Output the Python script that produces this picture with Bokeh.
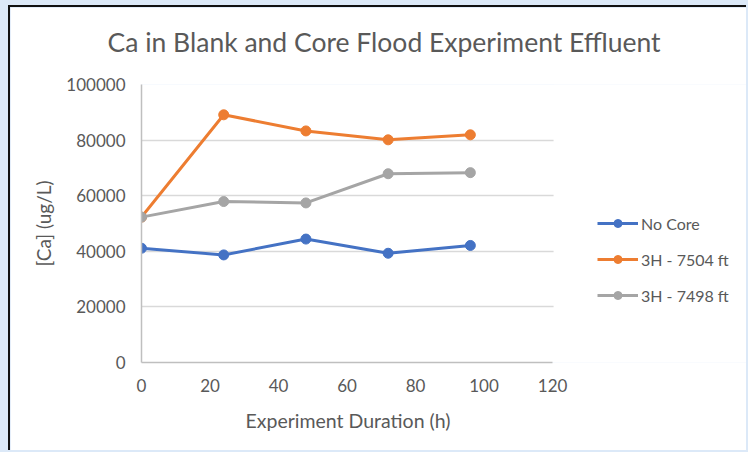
import re
from bokeh.plotting import figure
from bokeh.models import FixedTicker, Legend, LegendItem, BasicTickFormatter, Title, BoxAnnotation
from bokeh.embed import file_html
from bokeh.resources import INLINE

hours = [0, 24, 48, 72, 96]
no_core = [41100, 38700, 44400, 39300, 42100]
h3_7504 = [52300, 89100, 83300, 80100, 81900]
h3_7498 = [52300, 57900, 57400, 67900, 68300]
series_names = ["No Core", "3H - 7504 ft", "3H - 7498 ft"]
colors = ["#4472C4", "#ED7D31", "#A5A5A5"]
x_ticks = [0, 20, 40, 60, 80, 100, 120]
y_ticks = [0, 20000, 40000, 60000, 80000, 100000]
title_text = "Ca in Blank and Core Flood Experiment Effluent"
x_label = "Experiment Duration (h)"
y_label = "[Ca] (ug/L)"

FONT = "Lato"
TXT = "#595959"

# frame extends to the right edge; the axis stops at 120
X_END = 177.2
p = figure(width=738, height=445, output_backend="svg", toolbar_location=None,
           x_range=(0, X_END), y_range=(0, 100000),
           min_border_left=131, min_border_right=0, min_border_top=77, min_border_bottom=90)
p.margin = (5, 0, 0, 8)
p.styles = {"border-left": "2px solid #111", "border-top": "2px solid #111"}
p.background_fill_color = "white"
p.border_fill_color = "white"
p.outline_line_color = None
p.title = None

spacer = Title(text=" ", text_font_size="1px", standoff=20, text_color="white")
p.add_layout(spacer, "above")
t = Title(text=title_text, align="left",
          text_font=FONT, text_font_size="26.5px", text_font_style="normal",
          text_color=TXT, offset=-34, standoff=8)
p.add_layout(t, "above")

items = []
for ys, name, c in zip([no_core, h3_7504, h3_7498], series_names, colors):
    r1 = p.line(hours, ys, line_color=c, line_width=3)
    r2 = p.scatter(hours, ys, size=10, fill_color=c, line_color=c)
    items.append(LegendItem(label=name, renderers=[r1, r2]))

# hide grid lines to the right of the plotting area
cover = BoxAnnotation(left=x_ticks[-1] + 0.3, fill_color="white", fill_alpha=1,
                      line_color=None, level="underlay")
p.add_layout(cover)

leg = Legend(items=items, location=(456, 57), padding=0, margin=0,
             border_line_color=None, background_fill_alpha=0,
             glyph_width=41, glyph_height=20, label_height=20, spacing=16,
             label_standoff=3, label_text_font=FONT, label_text_font_size="16px",
             label_text_color=TXT)
p.add_layout(leg, "center")

for ax in (p.xaxis, p.yaxis):
    ax.major_tick_line_color = None
    ax.minor_tick_line_color = None
    ax.axis_line_color = "#BFBFBF"
    ax.axis_line_width = 1.5
    ax.major_label_text_font = FONT
    ax.major_label_text_font_size = "17px"
    ax.major_label_text_color = TXT
    ax.axis_label_text_font = FONT
    ax.axis_label_text_font_size = "19px"
    ax.axis_label_text_font_style = "normal"
    ax.axis_label_text_color = TXT

p.xaxis.ticker = FixedTicker(ticks=x_ticks)
p.xaxis.bounds = (x_ticks[0], x_ticks[-1])
p.yaxis.ticker = FixedTicker(ticks=y_ticks)
p.yaxis.formatter = BasicTickFormatter(use_scientific=False)
p.xaxis.major_label_standoff = 10
p.yaxis.major_label_standoff = 10
p.yaxis.axis_label = y_label
p.yaxis.axis_label_standoff = 8

xt = Title(text=x_label, align="left", vertical_align="top",
           text_font=FONT, text_font_size="19.5px", text_font_style="normal",
           text_color=TXT, offset=104, standoff=28)
p.add_layout(xt, "below")

p.xgrid.grid_line_color = None
p.ygrid.grid_line_color = "#D9D9D9"
p.ygrid.grid_line_width = 1.5

html = file_html(p, INLINE)
html = re.sub(r"<body([^>]*)>", r'<body\1 style="margin:0;background-color:#DCE9F8;">', html, count=1)
html = re.sub(r"<html([^>]*)>", r'<html\1 style="background-color:#DCE9F8;">', html, count=1)
open("out.html", "w").write(html)
